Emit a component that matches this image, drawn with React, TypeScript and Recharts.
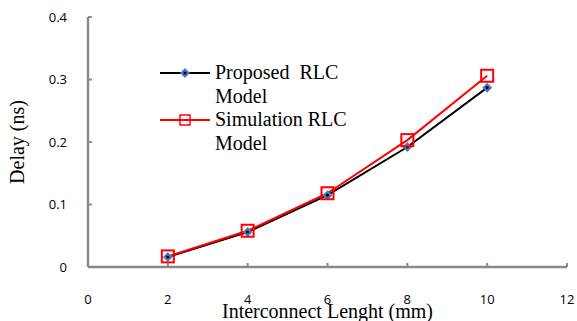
import React from "react";
import { LineChart, Line, XAxis, YAxis, Legend, Label } from "recharts";

const lengths = [2, 4, 6, 8, 10];
const proposedDelay = [0.016, 0.056, 0.115, 0.192, 0.287];
const simulationDelay = [0.017, 0.058, 0.118, 0.203, 0.306];
const xTicks = [0, 2, 4, 6, 8, 10, 12];
const yTicks = [0, 0.1, 0.2, 0.3, 0.4];

const data = lengths.map((len, i) => ({
  len,
  proposed: proposedDelay[i],
  simulation: simulationDelay[i],
}));

const axisColor = "#898989";
const tickFont = "'Open Sans', sans-serif";
const serif = "'Liberation Serif', 'Times New Roman', serif";

const Diamond = (props: any) => {
  const { cx, cy } = props;
  if (cx == null || cy == null) return null;
  return (
    <g>
      <polygon
        points={`${cx},${cy - 5} ${cx + 5},${cy} ${cx},${cy + 5} ${cx - 5},${cy}`}
        fill="#4A7EBB"
      />
      <circle cx={cx} cy={cy} r={1.6} fill="#000" />
    </g>
  );
};

const Square = (props: any) => {
  const { cx, cy } = props;
  if (cx == null || cy == null) return null;
  return (
    <rect x={cx - 6} y={cy - 6} width={12} height={12} fill="none" stroke="#FF0000" strokeWidth={2} />
  );
};

const XTick = (props: any) => {
  const { x, y, payload } = props;
  return (
    <g>
      <line x1={x} y1={y} x2={x} y2={y - 4} stroke={axisColor} strokeWidth={2} />
      <text x={x} y={y + 37} textAnchor="middle" fontFamily={tickFont} fontSize={13} fill="#000">
        {payload.value}
      </text>
    </g>
  );
};

const YTick = (props: any) => {
  const { x, y, payload } = props;
  return (
    <g>
      <line x1={x} y1={y} x2={x + 4} y2={y} stroke={axisColor} strokeWidth={2} />
      <text x={x - 21} y={y + 4.5} textAnchor="end" fontFamily={tickFont} fontSize={13} fill="#000">
        {payload.value}
      </text>
    </g>
  );
};

const LegendContent = (props: any) => {
  const items = props.payload || [];
  return (
    <div style={{ fontFamily: serif, fontSize: 20, lineHeight: "23.5px", color: "#000" }}>
      {items.map((item: any) => (
        <div key={item.value} style={{ display: "flex", alignItems: "flex-start" }}>
          <svg width={55} height={23.5} style={{ flex: "none" }}>
            <line x1={0} y1={12} x2={50} y2={12} stroke={item.color} strokeWidth={2} />
            {item.dataKey === "proposed" ? (
              <Diamond cx={25} cy={12} />
            ) : (
              <rect x={20} y={7} width={10} height={10} fill="none" stroke="#FF0000" strokeWidth={1.5} />
            )}
          </svg>
          <span style={{ width: 145, whiteSpace: "pre-wrap" }}>{item.value}</span>
        </div>
      ))}
    </div>
  );
};

const App: React.FC = () => {
  return (
    <div style={{ position: "absolute", left: 0, top: 0, width: 577, height: 321, background: "#fff" }}>
      <LineChart
        width={577}
        height={321}
        data={data}
        margin={{ top: 17, right: 10, bottom: 24, left: 8 }}
      >
        <XAxis
          dataKey="len"
          type="number"
          domain={[0, 12]}
          ticks={xTicks}
          height={30}
          tickSize={0}
          tickMargin={0}
          tick={<XTick />}
          axisLine={{ stroke: axisColor, strokeWidth: 2.5 }}
        >
          <Label
            content={(p: any) => {
              const vb = p.viewBox;
              return (
                <text
                  x={vb.x + vb.width / 2}
                  y={vb.y + 51}
                  textAnchor="middle"
                  fontFamily={serif}
                  fontSize={20}
                  fill="#000"
                >
                  Interconnect Lenght (mm)
                </text>
              );
            }}
          />
        </XAxis>
        <YAxis
          type="number"
          domain={[0, 0.4]}
          ticks={yTicks}
          width={80}
          tickSize={0}
          tickMargin={0}
          tick={<YTick />}
          axisLine={{ stroke: axisColor, strokeWidth: 2.5 }}
        >
          <Label
            content={(p: any) => {
              const vb = p.viewBox;
              const cx = vb.x + 9;
              const cy = vb.y + vb.height / 2;
              return (
                <text
                  x={cx}
                  y={cy}
                  transform={`rotate(-90 ${cx} ${cy})`}
                  textAnchor="middle"
                  dominantBaseline="central"
                  fontFamily={serif}
                  fontSize={20}
                  fill="#000"
                >
                  Delay (ns)
                </text>
              );
            }}
          />
        </YAxis>
        <Legend
          layout="vertical"
          align="center"
          verticalAlign="middle"
          content={<LegendContent />}
          wrapperStyle={{ left: 160, top: 61, width: 210, bottom: "auto", right: "auto" }}
        />
        <Line
          dataKey="proposed"
          name="Proposed  RLC Model"
          stroke="#000"
          strokeWidth={2}
          dot={<Diamond />}
          activeDot={false}
          isAnimationActive={false}
        />
        <Line
          dataKey="simulation"
          name="Simulation RLC Model"
          stroke="#FF0000"
          strokeWidth={2}
          dot={<Square />}
          activeDot={false}
          isAnimationActive={false}
        />
      </LineChart>
    </div>
  );
};

export default App;
